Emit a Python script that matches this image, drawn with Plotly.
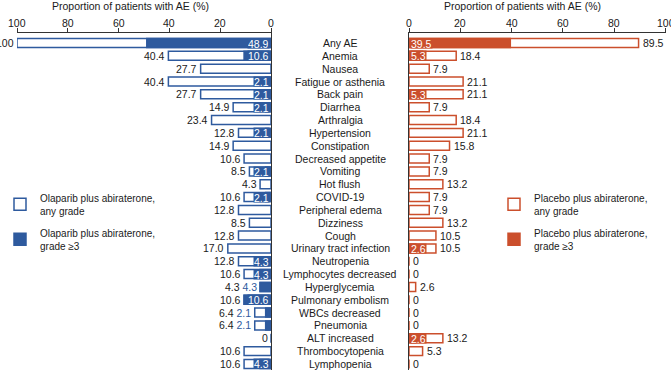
import plotly.graph_objects as go

categories = [
    "Any AE", "Anemia", "Nausea", "Fatigue or asthenia", "Back pain", "Diarrhea",
    "Arthralgia", "Hypertension", "Constipation", "Decreased appetite", "Vomiting",
    "Hot flush", "COVID-19", "Peripheral edema", "Dizziness", "Cough",
    "Urinary tract infection", "Neutropenia", "Lymphocytes decreased", "Hyperglycemia",
    "Pulmonary embolism", "WBCs decreased", "Pneumonia", "ALT increased",
    "Thrombocytopenia", "Lymphopenia",
]
olaparib_any = [100, 40.4, 27.7, 40.4, 27.7, 14.9, 23.4, 12.8, 14.9, 10.6, 8.5, 4.3, 10.6,
                12.8, 8.5, 12.8, 17.0, 12.8, 10.6, 4.3, 10.6, 6.4, 6.4, 0, 10.6, 10.6]
olaparib_g3 = [48.9, 10.6, None, 2.1, 2.1, 2.1, None, 2.1, None, None, 2.1, None, 2.1,
               None, None, None, None, 4.3, 4.3, 4.3, 10.6, 2.1, 2.1, None, None, 4.3]
placebo_any = [89.5, 18.4, 7.9, 21.1, 21.1, 7.9, 18.4, 21.1, 15.8, 7.9, 7.9, 13.2, 7.9,
               7.9, 13.2, 10.5, 10.5, 0, 0, 2.6, 0, 0, 0, 13.2, 5.3, 0]
placebo_g3 = [39.5, 5.3, None, None, 5.3, None, None, None, None, None, None, None, None,
              None, None, None, 2.6, None, None, None, None, None, None, 2.6, None, None]
x_ticks = [0, 20, 40, 60, 80, 100]
axis_title = "Proportion of patients with AE (%)"

BLUE = "#2E5A9E"
RED = "#CB4F2C"
INK = "#1a1a1a"
LINE = "#333333"
FONT = "Arial, Liberation Sans, sans-serif"
FS = 10.5

LEFT_DOMAIN = [17 / 671, 271 / 671]
RIGHT_DOMAIN = [409 / 671, 665.5 / 671]
LEFT_RANGE = [100, 0]
RIGHT_RANGE = [0, 100]


def fmt(v):
    if v == 0 or v == 100:
        return str(int(v))
    return f"{v:.1f}"


def to_paper(v, dom, rng):
    return dom[0] + (dom[1] - dom[0]) * (v - rng[0]) / (rng[1] - rng[0])


fig = go.Figure()
fig.add_trace(go.Bar(
    y=categories, x=olaparib_any, orientation="h", xaxis="x", yaxis="y",
    marker=dict(color="white", line=dict(color=BLUE, width=1.5)), width=0.7,
    name="Olaparib plus abiraterone,<br>any grade", legend="legend", legendgroup="a",
    hoverinfo="skip", cliponaxis=False))
fig.add_trace(go.Bar(
    y=categories, x=olaparib_g3, orientation="h", xaxis="x", yaxis="y",
    marker=dict(color=BLUE, line=dict(color=BLUE, width=1.5)), width=0.7,
    name="Olaparib plus abiraterone,<br>grade ≥3", legend="legend", legendgroup="b",
    hoverinfo="skip", cliponaxis=False))
fig.add_trace(go.Bar(
    y=categories, x=placebo_any, orientation="h", xaxis="x2", yaxis="y2",
    marker=dict(color="white", line=dict(color=RED, width=1.5)), width=0.7,
    name="Placebo plus abiraterone,<br>any grade", legend="legend2", legendgroup="c",
    hoverinfo="skip", cliponaxis=False))
fig.add_trace(go.Bar(
    y=categories, x=placebo_g3, orientation="h", xaxis="x2", yaxis="y2",
    marker=dict(color=RED, line=dict(color=RED, width=1.5)), width=0.7,
    name="Placebo plus abiraterone,<br>grade ≥3", legend="legend2", legendgroup="d",
    hoverinfo="skip", cliponaxis=False))

ann = []
for c in categories:
    ann.append(dict(x=0.507, xref="paper", y=c, yref="y", text=c, showarrow=False,
                    xanchor="center", yanchor="middle", font=dict(size=FS, color=INK)))

for c, a, g in zip(categories, olaparib_any, olaparib_g3):
    outside = g is not None and a < 8
    txt = fmt(a)
    if outside:
        txt += f' <span style="color:{BLUE}">{fmt(g)}</span>'
    ann.append(dict(x=a, xref="x", y=c, yref="y", text=txt, showarrow=False,
                    xanchor="right", yanchor="middle", xshift=-1.5,
                    font=dict(size=FS, color=INK)))
    if g is not None and not outside:
        ann.append(dict(x=0, xref="x", y=c, yref="y", text=fmt(g), showarrow=False,
                        xanchor="right", yanchor="middle", xshift=-1, bgcolor=BLUE,
                        borderpad=0, height=9, font=dict(size=FS, color="white")))

for c, a, g in zip(categories, placebo_any, placebo_g3):
    ann.append(dict(x=a, xref="x2", y=c, yref="y2", text=fmt(a), showarrow=False,
                    xanchor="left", yanchor="middle", xshift=2,
                    font=dict(size=FS, color=INK)))
    if g is not None:
        ann.append(dict(x=0, xref="x2", y=c, yref="y2", text=fmt(g), showarrow=False,
                        xanchor="left", yanchor="middle", xshift=1, bgcolor=RED,
                        borderpad=0, height=9, font=dict(size=FS, color="white")))

ann.append(dict(x=130 / 671, xref="paper", y=1, yref="paper", yshift=27, text=axis_title,
                showarrow=False, xanchor="center", yanchor="middle",
                font=dict(size=FS, color=INK)))
ann.append(dict(x=522.5 / 671, xref="paper", y=1, yref="paper", yshift=27, text=axis_title,
                showarrow=False, xanchor="center", yanchor="middle",
                font=dict(size=FS, color=INK)))

# tick labels of both top axes, placed at the axes' own tick positions
for dom, rng in ((LEFT_DOMAIN, LEFT_RANGE), (RIGHT_DOMAIN, RIGHT_RANGE)):
    for t in x_ticks:
        ann.append(dict(x=to_paper(t, dom, rng), xref="paper", y=1, yref="paper", yshift=3,
                        text=str(t), showarrow=False, xanchor="center", yanchor="bottom",
                        borderpad=0, font=dict(size=FS, color=INK)))

xcommon = dict(side="top", ticks="outside", ticklen=4, tickwidth=1, tickcolor=LINE,
               showline=True, linecolor=LINE, linewidth=1, showgrid=False, zeroline=False,
               tickvals=x_ticks, showticklabels=False, fixedrange=True, automargin=False)
ycommon = dict(type="category", categoryorder="array", categoryarray=categories,
               range=[25.47, -0.78], showline=True, linecolor=LINE, linewidth=1,
               showticklabels=False, ticks="", showgrid=False, zeroline=False,
               fixedrange=True, automargin=False)

fig.update_layout(
    width=671, height=370,
    margin=dict(l=0, r=0, t=33, b=0, autoexpand=False),
    paper_bgcolor="white", plot_bgcolor="white",
    font=dict(family=FONT, size=FS, color=INK),
    barmode="overlay",
    xaxis=dict(domain=LEFT_DOMAIN, range=LEFT_RANGE, anchor="y", **xcommon),
    xaxis2=dict(domain=RIGHT_DOMAIN, range=RIGHT_RANGE, anchor="y2", **xcommon),
    yaxis=dict(anchor="x", side="right", **ycommon),
    yaxis2=dict(anchor="x2", side="left", **ycommon),
    annotations=ann,
    showlegend=True,
    legend=dict(x=0.0, xanchor="left", y=0.55, yanchor="top", bgcolor="rgba(0,0,0,0)",
                font=dict(size=10, color=INK), tracegroupgap=6, traceorder="grouped"),
    legend2=dict(x=494 / 671, xanchor="left", y=0.55, yanchor="top",
                 bgcolor="rgba(0,0,0,0)", font=dict(size=10, color=INK),
                 tracegroupgap=6, traceorder="grouped"),
)

fig.write_html(
    "out.html",
    config={"displayModeBar": False},
    post_script="document.body.style.margin='0';document.body.style.overflow='hidden';",
)
